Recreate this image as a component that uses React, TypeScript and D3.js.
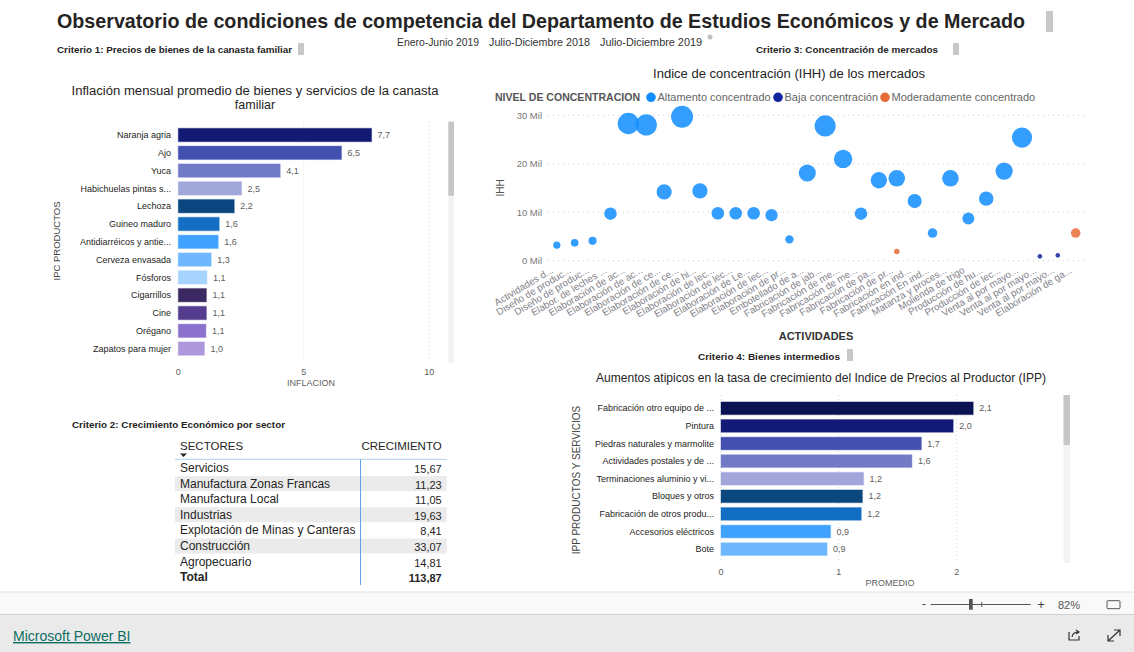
import React from "react";
import * as d3 from "d3";

const FONT = "'Liberation Sans', Arial, Helvetica, sans-serif";

// ---------- Data ----------
const ipcProducts = [
  "Naranja agria", "Ajo", "Yuca", "Habichuelas pintas s...", "Lechoza", "Guineo maduro",
  "Antidiarréicos y antie...", "Cerveza envasada", "Fósforos", "Cigarrillos", "Cine", "Orégano",
  "Zapatos para mujer",
];
const ipcInflation = [7.7, 6.5, 4.06, 2.52, 2.23, 1.63, 1.59, 1.31, 1.14, 1.12, 1.12, 1.1, 1.04];
const ipcColors = [
  "#131a73", "#4251b0", "#717ac7", "#a2a7da", "#0b4680", "#136ec4", "#41a3ff", "#6fb8ff",
  "#a7d3ff", "#3b2962", "#543c8e", "#8c72cf", "#ad98db",
];
const ipcTicks = [0, 5, 10];

const ippProducts = [
  "Fabricación otro equipo de ...", "Pintura", "Piedras naturales y marmolite",
  "Actividades postales y de ...", "Terminaciones aluminio y vi...", "Bloques y otros",
  "Fabricación de otros produ...", "Accesorios eléctricos", "Bote",
];
const ippAverage = [2.14, 1.97, 1.7, 1.62, 1.21, 1.2, 1.19, 0.93, 0.9];
const ippColors = [
  "#0c1352", "#131b77", "#4350af", "#727ac6", "#a0a6d9", "#0a477e", "#126ec3", "#3fa2ff", "#6eb7ff",
];
const ippTicks = [0, 1, 2];

const sectors = [
  "Servicios", "Manufactura Zonas Francas", "Manufactura Local", "Industrias",
  "Explotación de Minas y Canteras", "Construcción", "Agropecuario",
];
const growth = [15.67, 11.23, 11.05, 19.63, 8.41, 33.07, 14.81];

const activities = [
  "Actividades d...", "Diseño de produc...", "Diseño de produc...", "Elabor. de leches ...",
  "Elaboración de ac...", "Elaboración de ac...", "Elaboración de ce...", "Elaboración de ce...",
  "Elaboración de hi...", "Elaboración de lec...", "Elaboración de lec...", "Elaboración de Le...",
  "Elaboración de lec...", "Elaboración de pr...", "Embotellado de a...", "Fabricación de jab...",
  "Fabricación de me...", "Fabricación de me...", "Fabricación de pa...", "Fabricación de pr...",
  "Fabricación en ind...", "Fabricación En ind...", "Matanza y proces...", "Molienda de trigo",
  "Producción de hu...", "Producción de lec...", "Venta al por mayo...", "Venta al por mayo...",
  "Venta al por mayo...", "Elaboración de ga...",
];
const levels = ["Altamento concentrado", "Baja concentración", "Moderadamente concentrado"];
const levelColors = ["#118dff", "#12239e", "#e66c37"];
const pointActivity = [
  0, 1, 2, 3, 4, 5, 6, 7, 8, 9, 10, 11, 12, 13, 14, 15, 16, 17, 18, 19, 19, 20, 21, 22, 23, 24,
  25, 26, 27, 28, 29,
];
const pointIHH = [
  3200, 3700, 4100, 9700, 28300, 28000, 14200, 29700, 14400, 9800, 9800, 9800, 9400, 4400, 18100,
  27800, 21000, 9700, 16600, 17000, 1900, 12300, 5700, 17000, 8700, 12800, 18500, 25400, 900, 1100,
  5700,
];
const pointLevel = [
  0, 0, 0, 0, 0, 0, 0, 0, 0, 0, 0, 0, 0, 0, 0, 0, 0, 0, 0, 0, 2, 0, 0, 0, 0, 0, 0, 0, 1, 1, 2,
];
const ihhTicks = [0, 10000, 20000, 30000];

const slicerItems = ["Enero-Junio 2019", "Julio-Diciembre 2018", "Julio-Diciembre 2019"];

// ---------- helpers ----------
const fmt1 = (v: number) => d3.format(".1f")(v).replace(".", ",");
const fmt2 = (v: number) => d3.format(".2f")(v).replace(".", ",");

function App() {
  const W = 1134;
  const H = 652;

  // Left bar chart scales
  const ipcX = d3.scaleLinear().domain([0, 10]).range([178.3, 429.3]);
  const ipcY = d3.scaleBand<string>().domain(ipcProducts).range([126.1, 357.5]).paddingInner(0.25).paddingOuter(0.125);

  // Right-bottom bar chart
  const ippX = d3.scaleLinear().domain([0, 2]).range([721, 956.7]);
  const ippY = d3.scaleBand<string>().domain(ippProducts).range([399.5, 557.9]).paddingInner(0.28).paddingOuter(0.14);

  // Scatter
  const sx = d3.scalePoint<number>().domain(d3.range(activities.length)).range([556.8, 1075.7]);
  const sy = d3.scaleLinear().domain([0, 30000]).range([260.7, 115.3]);
  const sr = d3.scaleSqrt().domain([0, 30000]).range([0, 11]);

  // Table
  const rowH = 15.6;
  const rowTop = 460.5;
  const total = d3.sum(growth);

  const pts = pointActivity.map((a, i) => ({ a, v: pointIHH[i], l: pointLevel[i] }));

  return (
    <div style={{ position: "fixed", left: 0, top: 0, width: W, height: H, background: "#fff" }}>
      <svg width={W} height={H} style={{ display: "block", fontFamily: FONT }}>
        <rect x={0} y={0} width={W} height={H} fill="#fff" />

        {/* Main title */}
        <text x={57} y={28} fontSize={20.5} fontWeight="bold" fill="#252423" textLength={968} lengthAdjust="spacingAndGlyphs">
          Observatorio de condiciones de competencia del Departamento de Estudios Económicos y de Mercado
        </text>
        <rect x={1046} y={11} width={7} height={21} fill="#c8c8c8" />

        {/* slicer */}
        {slicerItems.map((s, i) => {
          const xs = [397, 489, 600];
          const ws = [82, 101, 102];
          return (
            <text key={i} x={xs[i]} y={46} fontSize={11} fill="#333" textLength={ws[i]} lengthAdjust="spacingAndGlyphs">
              {s}
            </text>
          );
        })}
        <circle cx={710} cy={37} r={2.5} fill="#c0c0c0" />

        {/* Criterio labels */}
        <text x={57} y={53} fontSize={9.5} fontWeight="bold" fill="#252423" textLength={235} lengthAdjust="spacingAndGlyphs">Criterio 1: Precios de bienes de la canasta familiar</text>
        <rect x={298} y={43} width={6} height={12} fill="#c8c8c8" />
        <text x={756} y={53} fontSize={9.5} fontWeight="bold" fill="#252423" textLength={182} lengthAdjust="spacingAndGlyphs">Criterio 3: Concentración de mercados</text>
        <rect x={953} y={43} width={6} height={12} fill="#c8c8c8" />
        <text x={698} y={360} fontSize={9.5} fontWeight="bold" fill="#252423" textLength={142} lengthAdjust="spacingAndGlyphs">Criterio 4: Bienes intermedios</text>
        <rect x={847} y={349} width={6} height={12} fill="#c8c8c8" />
        <text x={72} y={428} fontSize={9.5} fontWeight="bold" fill="#252423" textLength={213} lengthAdjust="spacingAndGlyphs">Criterio 2: Crecimiento Económico por sector</text>

        {/* ---------- Left bar chart ---------- */}
        <text x={255} y={95} fontSize={12.5} fill="#252423" textAnchor="middle" textLength={367} lengthAdjust="spacingAndGlyphs">
          Inflación mensual promedio de bienes y servicios de la canasta
        </text>
        <text x={255} y={109} fontSize={12.5} fill="#252423" textAnchor="middle">familiar</text>
        {ipcTicks.map((t) => (
          <g key={t}>
            {t > 0 && (
              <line x1={ipcX(t)} x2={ipcX(t)} y1={121.7} y2={362} stroke="#d8d8d8" strokeDasharray="1,3" />
            )}
            <text x={ipcX(t)} y={375} fontSize={9} fill="#605e5c" textAnchor="middle">{t}</text>
          </g>
        ))}
        <text x={311} y={386} fontSize={9} fill="#605e5c" textAnchor="middle">INFLACION</text>
        <text transform="translate(60,241) rotate(-90)" fontSize={9.5} fill="#444" textAnchor="middle">IPC PRODUCTOS</text>
        {ipcProducts.map((p, i) => {
          const y = ipcY(p)!;
          const bw = ipcY.bandwidth();
          return (
            <g key={i}>
              <rect x={ipcX(0)} y={y} width={ipcX(ipcInflation[i]) - ipcX(0)} height={bw} fill={ipcColors[i]} stroke={ipcColors[i]} strokeOpacity={0.35} strokeWidth={1.2} />
              <text x={171} y={y + bw / 2 + 3.2} fontSize={9} fill="#252423" textAnchor="end">{p}</text>
              <text x={ipcX(ipcInflation[i]) + 6} y={y + bw / 2 + 3.2} fontSize={9} fill="#605e5c">{fmt1(ipcInflation[i])}</text>
            </g>
          );
        })}
        <rect x={448.3} y={121.7} width={5.7} height={241.6} fill="#f3f3f3" />
        <rect x={448.3} y={121.7} width={5.7} height={74} fill="#c6c6c6" />

        {/* ---------- Scatter ---------- */}
        <text x={789} y={78} fontSize={12.5} fill="#252423" textAnchor="middle" textLength={272} lengthAdjust="spacingAndGlyphs">
          Indice de concentración (IHH) de los mercados
        </text>
        <text x={495} y={101} fontSize={11} fontWeight="bold" fill="#555" textLength={145} lengthAdjust="spacingAndGlyphs">NIVEL DE CONCENTRACION</text>
        {levels.map((l, i) => {
          const cx = [651, 778, 885][i];
          return (
            <g key={l}>
              <circle cx={cx} cy={97.3} r={4.8} fill={levelColors[i]} />
              <text x={cx + 6.5} y={101} fontSize={11} fill="#666">{l}</text>
            </g>
          );
        })}
        {ihhTicks.map((t) => (
          <g key={t}>
            <line x1={548} x2={1085} y1={sy(t)} y2={sy(t)} stroke="#cfcfcf" strokeDasharray="1,4" />
            <text x={542} y={sy(t) + 3.3} fontSize={9.5} fill="#777" textAnchor="end">{`${t / 1000} Mil`}</text>
          </g>
        ))}
        <text transform="translate(504,188) rotate(-90)" fontSize={10} fill="#555" textAnchor="middle">IHH</text>
        {pts.map((p, i) => (
          <circle key={i} cx={sx(p.a)!} cy={sy(p.v)} r={Math.max(2.3, sr(p.v))} fill={levelColors[p.l]} fillOpacity={0.85} />
        ))}
        {activities.map((a, i) => (
          <text key={i} transform={`translate(${sx(i)! - 3},272) rotate(-31)`} fontSize={9.8} fill="#7f8088" textAnchor="end">
            {a}
          </text>
        ))}
        <text x={816} y={340} fontSize={11} fontWeight="bold" fill="#333" textAnchor="middle">ACTIVIDADES</text>

        {/* ---------- Right-bottom bar chart ---------- */}
        <text x={821} y={382} fontSize={12} fill="#252423" textAnchor="middle" textLength={450} lengthAdjust="spacingAndGlyphs">
          Aumentos atipicos en la tasa de crecimiento del Indice de Precios al Productor (IPP)
        </text>
        {ippTicks.map((t) => (
          <g key={t}>
            <line x1={ippX(t)} x2={ippX(t)} y1={395} y2={563} stroke="#d8d8d8" strokeDasharray="1,3" />
            <text x={ippX(t)} y={575} fontSize={9} fill="#605e5c" textAnchor="middle">{t}</text>
          </g>
        ))}
        <text x={890} y={586} fontSize={9} fill="#605e5c" textAnchor="middle">PROMEDIO</text>
        <text transform="translate(580,480) rotate(-90)" fontSize={10} fill="#444" textAnchor="middle">IPP PRODUCTOS Y SERVICIOS</text>
        {ippProducts.map((p, i) => {
          const y = ippY(p)!;
          const bw = ippY.bandwidth();
          return (
            <g key={i}>
              <rect x={ippX(0)} y={y} width={ippX(ippAverage[i]) - ippX(0)} height={bw} fill={ippColors[i]} stroke={ippColors[i]} strokeOpacity={0.35} strokeWidth={1.2} />
              <text x={714} y={y + bw / 2 + 3} fontSize={9} fill="#252423" textAnchor="end">{p}</text>
              <text x={ippX(ippAverage[i]) + 6} y={y + bw / 2 + 3} fontSize={9} fill="#605e5c">{fmt1(ippAverage[i])}</text>
            </g>
          );
        })}
        <rect x={1063.5} y={395} width={6.5} height={168} fill="#f3f3f3" />
        <rect x={1063.5} y={395} width={6.5} height={50} fill="#c6c6c6" />

        {/* ---------- Table ---------- */}
        <text x={180} y={450} fontSize={11.5} fill="#252423">SECTORES</text>
        <path d="M180,453.5 L187,453.5 L183.5,457 Z" fill="#252423" />
        <text x={441.7} y={450} fontSize={11.5} fill="#252423" textAnchor="end">CRECIMIENTO</text>
        {sectors.map((s, i) => {
          const top = rowTop + rowH * i;
          return (
            <g key={s}>
              {i % 2 === 1 && <rect x={175} y={top} width={271.7} height={15} fill="#ebebeb" />}
              <text x={180} y={top + 11.5} fontSize={12} fill="#252423">{s}</text>
              <text x={441.7} y={top + 12.5} fontSize={11} fill="#252423" textAnchor="end">{fmt2(growth[i])}</text>
            </g>
          );
        })}
        <text x={180} y={rowTop + rowH * 7 + 11} fontSize={12} fontWeight="bold" fill="#252423">Total</text>
        <text x={441.7} y={rowTop + rowH * 7 + 12} fontSize={11} fontWeight="bold" fill="#252423" textAnchor="end">{fmt2(total)}</text>
        <line x1={175} x2={447} y1={459.3} y2={459.3} stroke="#a9d0f2" strokeWidth={1} />
        <line x1={360.5} x2={360.5} y1={459.3} y2={585} stroke="#5ba5e8" strokeWidth={1} />

        {/* ---------- Footer ---------- */}
        <rect x={0} y={592} width={W} height={22} fill="#f9f9f9" />
        <line x1={0} x2={W} y1={592} y2={592} stroke="#e0e0e0" />
        <rect x={0} y={614} width={W} height={38} fill="#eaeaea" />
        <line x1={0} x2={W} y1={614.5} y2={614.5} stroke="#cfcfcf" />
        <text x={924} y={608} fontSize={12} fill="#444" textAnchor="middle">-</text>
        <line x1={930.7} x2={1030.7} y1={604.5} y2={604.5} stroke="#555" />
        <rect x={969} y={599} width={3.7} height={10.7} fill="#555" />
        <line x1={981.7} x2={981.7} y1={602} y2={607} stroke="#555" />
        <text x={1041} y={609} fontSize={13} fill="#444" textAnchor="middle">+</text>
        <text x={1058} y={609} fontSize={11} fill="#555">82%</text>
        <rect x={1107} y={600.7} width={13} height={8} fill="none" stroke="#555" strokeWidth={1} rx={1} />
        <text x={13} y={641} fontSize={14} fill="#0e6e63" textDecoration="underline">Microsoft Power BI</text>
        <g stroke="#333" fill="none" strokeWidth={1.2}>
          <path d="M1069,632 L1069,640 L1079,640 L1079,636" />
          <path d="M1072,637 Q1073,632 1078,632 M1076,630 L1079,632 L1076,634" />
          <path d="M1108,641 L1120,630 M1114,630 L1120,630 L1120,636 M1108,635 L1108,641 L1114,641" />
        </g>
      </svg>
    </div>
  );
}

export default App;
